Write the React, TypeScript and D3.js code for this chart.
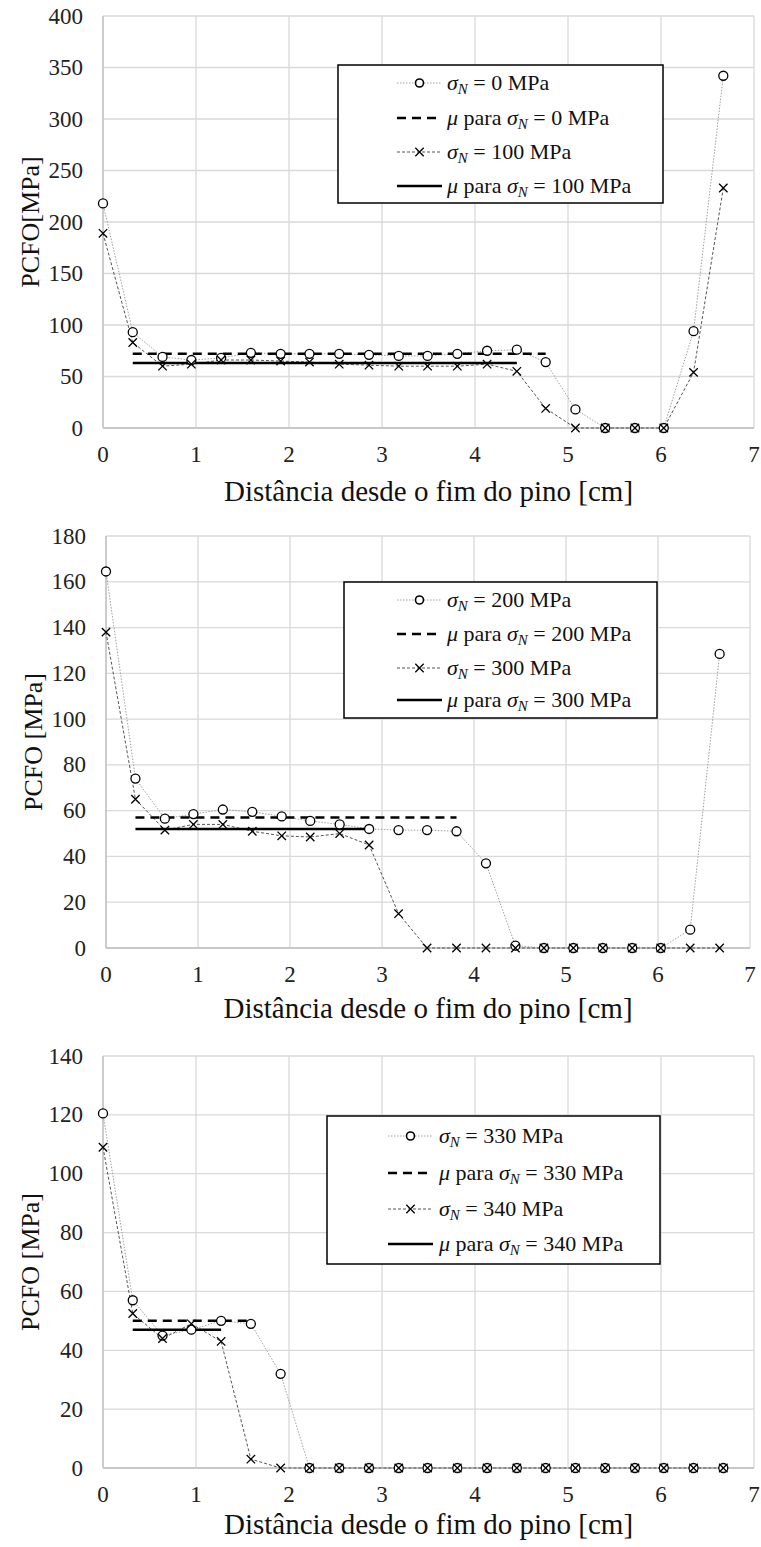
import React from "react";
import * as d3 from "d3";

const xPositions = [0, 0.32, 0.64, 0.95, 1.27, 1.59, 1.91, 2.22, 2.54, 2.86, 3.18, 3.49, 3.81, 4.13, 4.45, 4.76, 5.08, 5.40, 5.72, 6.03, 6.35, 6.67];

const p1Sigma0 = [218, 93, 69, 66, 68, 73, 72, 72, 72, 71, 70, 70, 72, 75, 76, 64, 18, 0, 0, 0, 94, 342];
const p1Sigma100 = [189, 83, 60, 62, 66, 66, 65, 64, 62, 61, 60, 60, 60, 62, 55, 19, 0, 0, 0, 0, 54, 233];
const p1Mean0 = { value: 72, from: 0.32, to: 4.76 };
const p1Mean100 = { value: 63, from: 0.32, to: 4.45 };

const p2Sigma200 = [164.5, 74, 56.5, 58.5, 60.5, 59.5, 57.5, 55.5, 54, 52, 51.5, 51.5, 51, 37, 1, 0, 0, 0, 0, 0, 8, 128.5];
const p2Sigma300 = [138, 65, 51.5, 54, 54, 51, 49, 48.5, 50, 45, 15, 0, 0, 0, 0, 0, 0, 0, 0, 0, 0, 0];
const p2Mean200 = { value: 57, from: 0.32, to: 3.81 };
const p2Mean300 = { value: 52, from: 0.32, to: 2.86 };

const p3Sigma330 = [120.5, 57, 45, 47, 50, 49, 32, 0, 0, 0, 0, 0, 0, 0, 0, 0, 0, 0, 0, 0, 0, 0];
const p3Sigma340 = [109, 52.5, 44, 49, 43, 3, 0, 0, 0, 0, 0, 0, 0, 0, 0, 0, 0, 0, 0, 0, 0, 0];
const p3Mean330 = { value: 50, from: 0.32, to: 1.57 };
const p3Mean340 = { value: 47, from: 0.32, to: 1.27 };

const xTicks = [0, 1, 2, 3, 4, 5, 6, 7];
const p1YTicks = [0, 50, 100, 150, 200, 250, 300, 350, 400];
const p2YTicks = [0, 20, 40, 60, 80, 100, 120, 140, 160, 180];
const p3YTicks = [0, 20, 40, 60, 80, 100, 120, 140];

const xTitle = "Distância desde o fim do pino [cm]";

const FONT = "'Liberation Serif', 'Times New Roman', serif";

type Mean = { value: number; from: number; to: number };

type PanelProps = {
  left: number; right: number; top: number; bottom: number;
  yMax: number; yTicks: number[]; yTitle: string;
  circles: number[]; crosses: number[]; meanA: Mean; meanB: Mean;
  labelA: string; labelB: string;
  legend: { x0: number; x1: number; y0: number; y1: number; rows: number[]; s0: number; s1: number; tx: number };
  tickRight: number; yTitleX: number; xTitleY: number;
};

function Sigma({ rest }: { rest: string }) {
  return (
    <>
      <tspan fontStyle="italic">σ</tspan>
      <tspan fontStyle="italic" fontSize="0.68em" dy={4}>N</tspan>
      <tspan dy={-4}>{rest}</tspan>
    </>
  );
}

function Cross({ x, y }: { x: number; y: number }) {
  const s = 4.2;
  return (
    <path d={`M${x - s},${y - s}L${x + s},${y + s}M${x - s},${y + s}L${x + s},${y - s}`} stroke="#000" strokeWidth={1.3} />
  );
}

function Panel(p: PanelProps) {
  const x = d3.scaleLinear().domain([0, 7]).range([p.left, p.right]);
  const y = d3.scaleLinear().domain([0, p.yMax]).range([p.bottom, p.top]);
  const line = d3.line<number>().x((_, i) => x(xPositions[i])).y((d) => y(d));
  const L = p.legend;
  const mid = (L.s0 + L.s1) / 2;
  return (
    <g>
      {p.yTicks.map((t) => (
        <line key={"gy" + t} x1={p.left} x2={p.right} y1={y(t)} y2={y(t)} stroke="#d9d9d9" strokeWidth={1.3} />
      ))}
      {xTicks.map((t) => (
        <line key={"gx" + t} x1={x(t)} x2={x(t)} y1={p.top} y2={p.bottom} stroke="#d9d9d9" strokeWidth={1.3} />
      ))}
      <line x1={p.left} x2={p.right} y1={p.bottom} y2={p.bottom} stroke="#bfbfbf" strokeWidth={1.3} />
      <line x1={p.left} x2={p.left} y1={p.top} y2={p.bottom} stroke="#bfbfbf" strokeWidth={1.3} />
      {p.yTicks.map((t) => (
        <text key={"ty" + t} x={p.tickRight} y={y(t)} dy="0.33em" textAnchor="end" fontSize={23} fontFamily={FONT} fill="#222">{t}</text>
      ))}
      {xTicks.map((t) => (
        <text key={"tx" + t} x={x(t)} y={p.bottom + 34} textAnchor="middle" fontSize={23} fontFamily={FONT} fill="#222">{t}</text>
      ))}
      <text transform={`translate(${p.yTitleX},${(p.top + p.bottom) / 2}) rotate(-90)`} textAnchor="middle" dy="0.33em" fontSize={26} fontFamily={FONT} fill="#111">{p.yTitle}</text>
      <text x={(p.left + p.right) / 2} y={p.xTitleY} textAnchor="middle" fontSize={29} fontFamily={FONT} fill="#111">{xTitle}</text>

      <path d={line(p.circles) || ""} fill="none" stroke="#a0a0a0" strokeWidth={1} strokeDasharray="1.5,1.5" />
      <path d={line(p.crosses) || ""} fill="none" stroke="#555" strokeWidth={1} strokeDasharray="3,2" />
      <line x1={x(p.meanA.from)} x2={x(p.meanA.to)} y1={y(p.meanA.value)} y2={y(p.meanA.value)} stroke="#000" strokeWidth={2.5} strokeDasharray="9,6" />
      <line x1={x(p.meanB.from)} x2={x(p.meanB.to)} y1={y(p.meanB.value)} y2={y(p.meanB.value)} stroke="#000" strokeWidth={2.5} />
      {p.circles.map((v, i) => (
        <circle key={"c" + i} cx={x(xPositions[i])} cy={y(v)} r={4.5} fill="#fff" stroke="#000" strokeWidth={1.3} />
      ))}
      {p.crosses.map((v, i) => (
        <Cross key={"x" + i} x={x(xPositions[i])} y={y(v)} />
      ))}

      <rect x={L.x0} y={L.y0} width={L.x1 - L.x0} height={L.y1 - L.y0} fill="#fff" stroke="#000" strokeWidth={1.5} />
      <line x1={L.s0} x2={L.s1} y1={L.rows[0]} y2={L.rows[0]} stroke="#a0a0a0" strokeWidth={1} strokeDasharray="1.5,1.5" />
      <circle cx={mid} cy={L.rows[0]} r={4} fill="#fff" stroke="#000" strokeWidth={1.6} />
      <line x1={L.s0} x2={L.s1} y1={L.rows[1]} y2={L.rows[1]} stroke="#000" strokeWidth={2.5} strokeDasharray="9,6" />
      <line x1={L.s0} x2={L.s1} y1={L.rows[2]} y2={L.rows[2]} stroke="#555" strokeWidth={1} strokeDasharray="3,2" />
      <Cross x={mid} y={L.rows[2]} />
      <line x1={L.s0} x2={L.s1} y1={L.rows[3]} y2={L.rows[3]} stroke="#000" strokeWidth={2.5} />
      {[0, 1, 2, 3].map((k) => (
        <text key={"lg" + k} x={L.tx} y={L.rows[k]} dy="0.33em" fontSize={22} fontFamily={FONT} fill="#111">
          {k % 2 === 1 ? <tspan fontStyle="italic">μ</tspan> : null}
          {k % 2 === 1 ? <tspan> para </tspan> : null}
          <Sigma rest={` = ${k < 2 ? p.labelA : p.labelB} MPa`} />
        </text>
      ))}
    </g>
  );
}

export default function App() {
  return (
    <svg width={761} height={1547} style={{ position: "absolute", left: 0, top: 0, background: "#fff" }}>
      <rect width={761} height={1547} fill="#fff" />
      <Panel left={103} right={754} top={16} bottom={428} yMax={400} yTicks={p1YTicks} yTitle="PCFO[MPa]"
        circles={p1Sigma0} crosses={p1Sigma100} meanA={p1Mean0} meanB={p1Mean100} labelA="0" labelB="100"
        legend={{ x0: 338, x1: 663, y0: 65, y1: 203, rows: [83, 118, 152, 186], s0: 397, s1: 442, tx: 447 }}
        tickRight={83} yTitleX={30} xTitleY={501} />
      <Panel left={106} right={750} top={536} bottom={948} yMax={180} yTicks={p2YTicks} yTitle="PCFO [MPa]"
        circles={p2Sigma200} crosses={p2Sigma300} meanA={p2Mean200} meanB={p2Mean300} labelA="200" labelB="300"
        legend={{ x0: 344, x1: 657, y0: 582, y1: 718, rows: [600, 634, 668, 700], s0: 397, s1: 442, tx: 447 }}
        tickRight={86} yTitleX={33} xTitleY={1018} />
      <Panel left={103} right={754} top={1056} bottom={1468} yMax={140} yTicks={p3YTicks} yTitle="PCFO [MPa]"
        circles={p3Sigma330} crosses={p3Sigma340} meanA={p3Mean330} meanB={p3Mean340} labelA="330" labelB="340"
        legend={{ x0: 327, x1: 660, y0: 1116, y1: 1264, rows: [1136, 1173, 1209, 1244], s0: 388, s1: 433, tx: 439 }}
        tickRight={83} yTitleX={30} xTitleY={1534} />
    </svg>
  );
}
